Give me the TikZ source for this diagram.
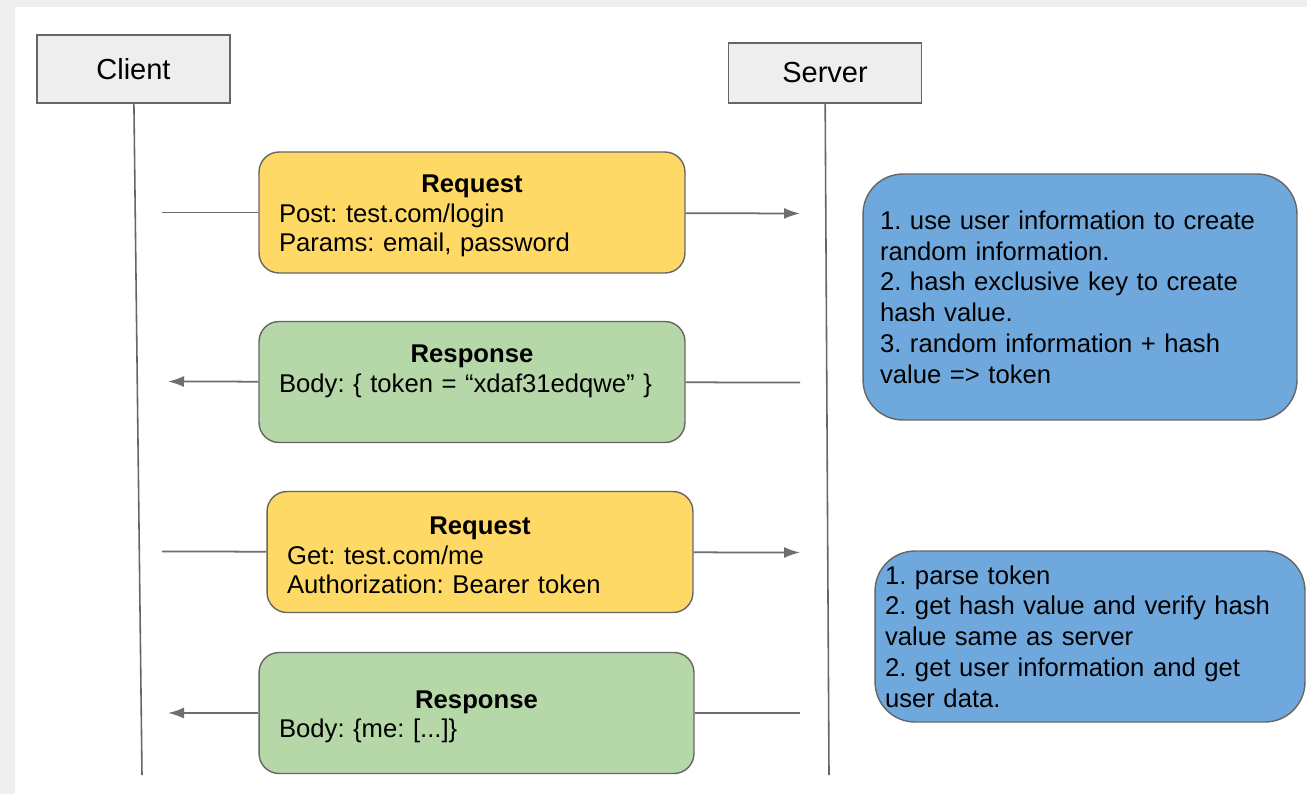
\documentclass[tikz,border=0pt]{standalone}
\usepackage{fontspec}
\setmainfont{Liberation Sans}
\usepackage{tikz}
\usetikzlibrary{shapes,arrows,arrows.meta}
\frenchspacing
\definecolor{framegray}{HTML}{EFEFEF}
\definecolor{actorgray}{HTML}{EEEEEE}
\definecolor{edgegray}{HTML}{666666}
\definecolor{arrowgray}{HTML}{6E6E6E}
\definecolor{reqyellow}{HTML}{FFD966}
\definecolor{respgreen}{HTML}{B6D7A8}
\definecolor{noteblue}{HTML}{6FA8DC}
\newcommand{\msghead}[1]{{\centering\rule{0pt}{0.5cm}\textbf{#1}\par}}
\newcommand{\padbelow}[1]{\rule[-#1]{0pt}{0pt}}
\tikzstyle{actor} = [draw=edgegray, fill=actorgray, line width=1pt,
    minimum width=3.86cm, minimum height=1.36cm, font=\fontsize{16.5}{19}\selectfont]
\tikzstyle{msg} = [draw=edgegray, line width=0.8pt, rounded corners=0.4cm, align=left,
    minimum height=2.42cm, inner xsep=0.4cm, inner ysep=0pt, font=\fontsize{14.6}{16.8}\selectfont]
\tikzstyle{request} = [msg, fill=reqyellow]
\tikzstyle{response} = [msg, fill=respgreen]
\tikzstyle{note} = [draw=edgegray, line width=0.8pt, fill=noteblue, rounded corners=0.8cm,
    align=left, inner ysep=0pt, font=\fontsize{14.6}{17.5}\selectfont]
\tikzset{
  line/.style ={draw=arrowgray, line width=1pt, shorten >=0pt},
  lifeline/.style ={draw=edgegray, line width=0.9pt}
}
\begin{document}
\begin{tikzpicture}[x=0.02cm, y=-0.02cm, >={Latex[length=3.2mm,width=2.2mm]}]
  \useasboundingbox (0,0) rectangle (1307,794);
  \fill[framegray] (0,0) rectangle (1307,794);
  \fill[white] (15,7) rectangle (1307,794);

  \node[actor] (client) at (133.5,69) {Client};
  \node[actor, minimum height=1.2cm] (server) at (825,73) {Server};
  \coordinate (client_end) at (142,775);
  \coordinate (server_end) at (829,775);
  \path[lifeline] (client) -- (client_end);
  \path[lifeline] (server) -- (server_end);

  \node[request, text width=7.72cm] (request1) at (472,212.5)
    {\msghead{Request}Post: test.com/login\\Params: email, password};
  \node[response, text width=7.72cm] (response1) at (472,382)
    {\msghead{Response}Body: \{ token = “xdaf31edqwe” \}\padbelow{0.67cm}};
  \node[request, text width=7.72cm] (request2) at (480,552)
    {\msghead{Request}Get: test.com/me\\Authorization: Bearer token};
  \node[response, text width=7.9cm] (response2) at (476.5,713)
    {\msghead{Response}Body: \{me: [...]\}};

  \node[note, text width=8cm, inner xsep=0.34cm, minimum height=4.92cm] (create_token) at (1080,297)
    {1. use user information to create\\random information.\\2. hash exclusive key to create\\hash value.\\3. random information + hash\\value => token};
  \node[note, text width=8.2cm, inner xsep=0.2cm, minimum height=3.42cm] (verify_token) at (1090,636.5)
    {1. parse token\\2. get hash value and verify hash\\value same as server\\2. get user information and get\\user data.};

  \coordinate (req1_from) at (162,212.5);
  \coordinate (req1_to) at (800,213.5);
  \coordinate (resp1_from) at (800,382.5);
  \coordinate (resp1_to) at (168,381.5);
  \coordinate (req2_from) at (162,551.5);
  \coordinate (req2_to) at (800,552.5);
  \coordinate (resp2_from) at (800,713);
  \coordinate (resp2_to) at (168,713);

  \path[line] (req1_from) -- (request1);
  \path[line,->] (request1) -- (req1_to);
  \path[line] (resp1_from) -- (response1);
  \path[line,->] (response1) -- (resp1_to);
  \path[line] (req2_from) -- (request2);
  \path[line,->] (request2) -- (req2_to);
  \path[line] (resp2_from) -- (response2);
  \path[line,->] (response2) -- (resp2_to);
\end{tikzpicture}
\end{document}
